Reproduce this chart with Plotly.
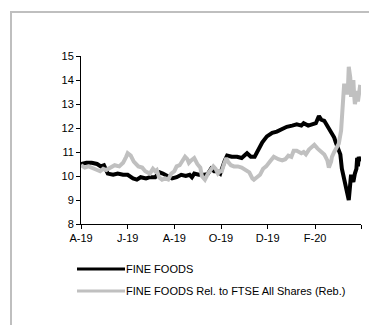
import plotly.graph_objects as go

# ---- data ----
fine_dates = [
    "2019-04-01", "2019-04-08", "2019-04-15", "2019-04-22", "2019-04-27", "2019-05-01",
    "2019-05-06", "2019-05-13", "2019-05-19", "2019-05-26", "2019-06-01", "2019-06-08",
    "2019-06-13", "2019-06-18", "2019-06-25", "2019-06-30", "2019-07-07", "2019-07-13",
    "2019-07-17", "2019-07-22", "2019-07-29", "2019-08-04", "2019-08-10", "2019-08-16",
    "2019-08-21", "2019-08-24", "2019-08-27", "2019-09-02", "2019-09-09", "2019-09-14",
    "2019-09-18", "2019-09-22", "2019-09-26", "2019-09-30", "2019-10-02", "2019-10-06",
    "2019-10-09", "2019-10-15", "2019-10-22", "2019-10-28", "2019-11-04", "2019-11-09",
    "2019-11-14", "2019-11-20", "2019-11-24", "2019-11-30", "2019-12-07", "2019-12-13",
    "2019-12-20", "2019-12-26", "2020-01-02", "2020-01-08", "2020-01-14", "2020-01-17",
    "2020-01-23", "2020-01-28", "2020-02-02", "2020-02-06", "2020-02-09", "2020-02-13",
    "2020-02-17", "2020-02-22", "2020-02-26", "2020-02-28", "2020-03-02", "2020-03-05",
    "2020-03-07", "2020-03-10", "2020-03-12", "2020-03-14", "2020-03-16", "2020-03-18",
    "2020-03-19", "2020-03-20", "2020-03-22", "2020-03-24", "2020-03-26", "2020-03-27",
    "2020-03-28", "2020-03-29", "2020-03-31",
]
fine_values = [
    10.5, 10.55, 10.55, 10.5, 10.4, 10.45,
    10.1, 10.05, 10.1, 10.05, 10.05, 9.9,
    9.85, 9.95, 9.9, 9.95, 9.95, 10.15,
    10.1, 10.0, 9.9, 9.95, 10.05, 10.0,
    10.05, 9.95, 10.1, 10.05, 10.05, 10.1,
    10.3, 10.2, 10.2, 10.1, 10.3, 10.65,
    10.85, 10.8, 10.8, 10.75, 10.95, 10.8,
    10.8, 11.15, 11.4, 11.65, 11.8, 11.85,
    11.95, 12.05, 12.1, 12.15, 12.1, 12.2,
    12.1, 12.15, 12.2, 12.5, 12.35, 12.3,
    12.1, 11.85, 11.6, 11.4, 11.1, 10.9,
    10.3, 9.85, 9.6, 9.4, 9.0, 9.7,
    10.05, 9.9, 9.75, 10.1, 10.3, 10.75,
    10.4, 10.8, 10.6,
]

rel_dates = [
    "2019-04-01", "2019-04-06", "2019-04-11", "2019-04-17", "2019-04-22", "2019-04-26",
    "2019-04-30", "2019-05-04", "2019-05-09", "2019-05-15", "2019-05-21", "2019-05-26",
    "2019-05-30", "2019-06-01", "2019-06-05", "2019-06-09", "2019-06-15", "2019-06-20",
    "2019-06-24", "2019-06-28", "2019-06-30", "2019-07-04", "2019-07-07", "2019-07-09",
    "2019-07-12", "2019-07-16", "2019-07-20", "2019-07-24", "2019-07-28", "2019-08-01",
    "2019-08-04", "2019-08-08", "2019-08-12", "2019-08-15", "2019-08-18", "2019-08-20",
    "2019-08-23", "2019-08-27", "2019-08-31", "2019-09-04", "2019-09-06", "2019-09-10",
    "2019-09-14", "2019-09-18", "2019-09-21", "2019-09-24", "2019-09-27", "2019-09-30",
    "2019-10-02", "2019-10-05", "2019-10-08", "2019-10-10", "2019-10-14", "2019-10-18",
    "2019-10-23", "2019-10-28", "2019-11-03", "2019-11-07", "2019-11-11", "2019-11-13",
    "2019-11-17", "2019-11-21", "2019-11-25", "2019-11-29", "2019-12-04", "2019-12-09",
    "2019-12-15", "2019-12-20", "2019-12-24", "2019-12-28", "2020-01-01", "2020-01-04",
    "2020-01-08", "2020-01-14", "2020-01-17", "2020-01-20", "2020-01-24", "2020-01-28",
    "2020-01-31", "2020-02-04", "2020-02-07", "2020-02-13", "2020-02-17", "2020-02-19",
    "2020-02-22", "2020-02-23", "2020-02-26", "2020-02-28", "2020-03-03", "2020-03-06",
    "2020-03-07", "2020-03-09", "2020-03-10", "2020-03-11", "2020-03-12", "2020-03-14",
    "2020-03-15", "2020-03-16", "2020-03-18", "2020-03-19", "2020-03-20", "2020-03-22",
    "2020-03-23", "2020-03-24", "2020-03-26", "2020-03-27", "2020-03-28", "2020-03-29",
    "2020-03-31",
]
rel_values = [
    10.45, 10.35, 10.4, 10.3, 10.25, 10.2,
    10.3, 10.25, 10.35, 10.45, 10.4, 10.55,
    10.8, 10.95, 10.85, 10.6, 10.4, 10.35,
    10.2, 10.15, 10.1, 10.3, 10.2, 10.25,
    9.95, 9.85, 9.9, 9.85, 10.1, 10.2,
    10.4, 10.45, 10.65, 10.8, 10.7, 10.55,
    10.65, 10.75, 10.5, 10.35, 10.0, 9.85,
    10.1, 10.3, 10.4, 10.3, 10.1, 10.2,
    10.2, 10.5, 10.75, 10.6, 10.45, 10.4,
    10.4, 10.35, 10.25, 10.15, 9.9, 9.85,
    9.95, 10.05, 10.3, 10.4, 10.6, 10.8,
    10.7, 10.65, 10.7, 10.85, 10.8, 11.05,
    11.05, 10.95, 11.0, 10.9, 11.1, 11.2,
    11.3, 11.15, 11.05, 10.9, 10.65, 10.35,
    10.6, 10.8, 11.0, 11.15, 11.35, 11.9,
    12.45, 13.1, 13.85, 13.6, 13.7, 13.4,
    13.7, 14.55, 14.1, 13.3, 13.6, 14.0,
    13.4, 13.0, 13.3, 13.55, 13.1, 13.4,
    13.8,
]

series_names = ["FINE FOODS", "FINE FOODS Rel. to FTSE All Shares (Reb.)"]
series_colors = ["#000000", "#c0c0c0"]

tick_dates = ["2019-04-01", "2019-06-01", "2019-08-01", "2019-10-01",
              "2019-12-01", "2020-02-01", "2020-04-01"]
tick_labels = ["A-19", "J-19", "A-19", "O-19", "D-19", "F-20", ""]
y_ticks = [8, 9, 10, 11, 12, 13, 14, 15]

FONT = "Liberation Sans, Arial, sans-serif"

fig = go.Figure()
fig.add_trace(go.Scatter(x=fine_dates, y=fine_values, mode="lines",
                         name=series_names[0],
                         line=dict(color=series_colors[0], width=4)))
fig.add_trace(go.Scatter(x=rel_dates, y=rel_values, mode="lines",
                         name=series_names[1],
                         line=dict(color=series_colors[1], width=4)))

# page body has an 8px margin; layout numbers are in figure coordinates
OFF = 8
W, H = 377, 325
L, T = 81 - OFF, 56 - OFF
R = W - (361 - OFF)
B = H - (224 - OFF)
pw, ph = W - L - R, H - T - B


def px(x):
    # screen x -> paper
    return (x - OFF - L) / pw


def py(y):
    # screen y -> paper
    return (H - B - (y - OFF)) / ph


shapes = [
    # outer frame (top + left border visible)
    dict(type="rect", xref="paper", yref="paper",
         x0=px(11), x1=px(400), y0=py(360), y1=py(12),
         line=dict(color="#bfbfbf", width=2), fillcolor="rgba(0,0,0,0)", layer="below"),
]
annotations = []
for i, (nm, col) in enumerate(zip(series_names, series_colors)):
    yy = 269 + 22 * i
    shapes.append(dict(type="line", xref="paper", yref="paper",
                       x0=px(77), x1=px(125), y0=py(yy), y1=py(yy),
                       line=dict(color=col, width=3)))
    annotations.append(dict(xref="paper", yref="paper", x=px(125), y=py(yy),
                            text=nm, showarrow=False, xanchor="left", yanchor="middle",
                            borderpad=0,
                            font=dict(family=FONT, size=11, color="#000000")))

fig.update_layout(
    width=W, height=H,
    margin=dict(l=L, r=R, t=T, b=B, pad=0),
    paper_bgcolor="white", plot_bgcolor="white",
    showlegend=False,
    font=dict(family=FONT, size=11, color="#000000"),
    shapes=shapes, annotations=annotations,
    xaxis=dict(range=["2019-04-01", "2020-04-01"], tickvals=tick_dates, ticktext=tick_labels,
               showgrid=False, zeroline=False, showline=True, linecolor="#000000", linewidth=1,
               ticks="outside", ticklen=4, tickcolor="#000000", tickangle=0),
    yaxis=dict(range=[8, 15], tickvals=y_ticks, showgrid=False, zeroline=False,
               showline=True, linecolor="#000000", linewidth=1,
               ticks="outside", ticklen=4, tickcolor="#000000"),
)

fig.write_html("out.html")
